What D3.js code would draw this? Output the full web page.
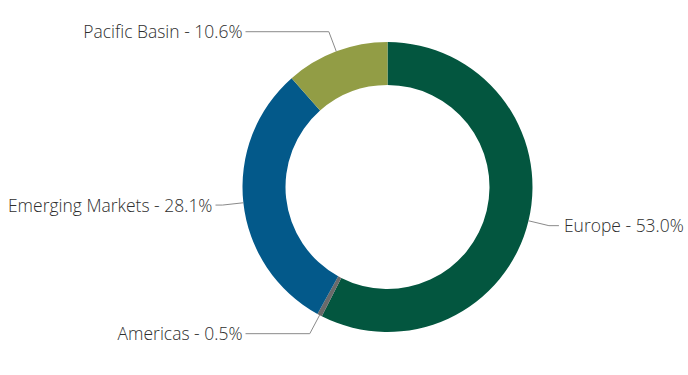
<!DOCTYPE html>
<html>
<head>
<meta charset="utf-8">
<script src="https://cdn.jsdelivr.net/npm/d3@7"></script>
<style>
body { margin:0; background:#fff; }
svg text { font-family:"Open Sans",sans-serif; font-weight:300; font-size:19px; fill:#2e2e2e; }
</style>
</head>
<body>
<svg width="688" height="375"></svg>
<script>
// regions, clockwise from 12 o'clock
var regions = ["Europe", "Americas", "Emerging Markets", "Pacific Basin"];
var weights = [53.0, 0.5, 28.1, 10.6];

var drawDonut = function()
{
    var svg = d3.select("svg");
    var cx = 387.5, cy = 187;
    var outerR = 145, innerR = 102;

    var color = d3.scaleOrdinal()
        .domain(regions)
        .range(["#03563f", "#6a6a6a", "#03598a", "#929d45"]);

    var rows = regions.map(function(name, i) { return {name:name, value:weights[i]}; });

    var pie = d3.pie()
        .sort(null)
        .value(function(d) { return d.value; });

    var arc = d3.arc().innerRadius(innerR).outerRadius(outerR);
    var edgeArc = d3.arc().innerRadius(outerR).outerRadius(outerR);
    var elbowArc = d3.arc().innerRadius(166).outerRadius(166);

    var g = svg.append("g")
        .attr("transform", "translate(" + cx + "," + cy + ")");

    var slices = pie(rows);

    g.selectAll("path.slice")
        .data(slices)
        .enter()
        .append("path")
        .attr("class", "slice")
        .attr("d", arc)
        .attr("fill", function(d) { return color(d.data.name); });

    //leader lines + labels
    var labels = g.selectAll("g.label")
        .data(slices)
        .enter()
        .append("g")
        .attr("class", "label");

    labels.each(function(d)
    {
        var p0 = edgeArc.centroid(d);
        var p1 = elbowArc.centroid(d);
        var mid = (d.startAngle + d.endAngle) / 2;
        var left = mid > Math.PI;
        var endX = left ? Math.min(p1[0] - 7, -outerR + 3) : Math.max(p1[0] + 10, outerR - 3);
        var sel = d3.select(this);
        sel.append("polyline")
            .attr("points", [p0, p1, [endX, p1[1]]].map(function(p) { return p.join(","); }).join(" "))
            .attr("fill", "none")
            .attr("stroke", "#8a8a8a")
            .attr("stroke-width", 1);
        // squeeze a little, the original face is narrow
        sel.append("text")
            .attr("transform", "translate(" + (left ? endX - 3 : endX + 5) + "," + (p1[1] + 6.5) + ") scale(0.92,1)")
            .attr("text-anchor", left ? "end" : "start")
            .text(d.data.name + " - " + d.data.value.toFixed(1) + "%");
    });
}

drawDonut();
</script>
</body>
</html>
